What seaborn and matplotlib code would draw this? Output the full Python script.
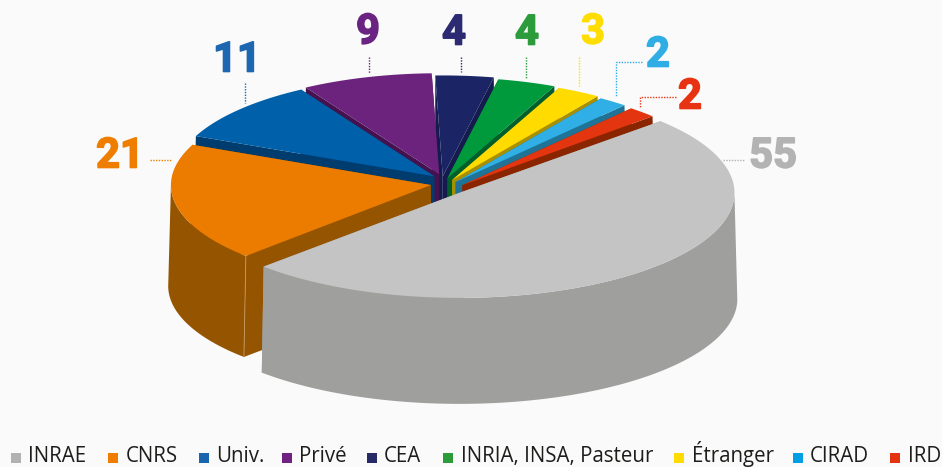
import numpy as np
import pandas as pd
import matplotlib
matplotlib.use("Agg")
import matplotlib.pyplot as plt
import matplotlib.patheffects as pe
import seaborn as sns

# donnees
labels = ['INRAE', 'CNRS', 'Univ.', 'Privé', 'CEA', 'INRIA, INSA, Pasteur', 'Étranger', 'CIRAD', 'IRD']
values = [55, 21, 11, 9, 4, 4, 3, 2, 2]

# couleurs
top_colors = ['#c4c4c4', '#ec7c00', '#0060a9', '#6c237e', '#1b2566', '#009a3d', '#ffdb00', '#2fafe6', '#e33510']
side_colors = ['#9f9f9d', '#955400', '#003d6e', '#46114f', '#151b4e', '#005f2a', '#a89000', '#1f7396', '#8b2500']
num_colors = ['#b3b3b3', '#ee7d00', '#1d67b1', '#6b2382', '#2b2a72', '#2b9b3c', '#ffdd00', '#2fade4', '#e73312']
leg_colors = ['#b2b2b2', '#f07d00', '#1a65b0', '#6f2282', '#262b66', '#2c9c3b', '#ffdb00', '#009fe3', '#e6330f']

# mise en page (pixels)
cx, cy = 445, 182
rx, ry = 260, 101
spread = 0.01  # le bas s'elargit un peu (perspective)
start = 43
depth = [106, 101, 101, 101, 101, 101, 101, 101, 101]
explode = [0.08, 0.055, 0.07, 0.08, 0.08, 0.08, 0.08, 0.08, 0.08]
shift_x = [0, 0, 3, 0, -4, -4, -3, -2, 3]
drop = [5, 2, -1, 0, 2.5, 4, 5, 6.5, 9]
scale_x = [1.058, 1.0, 1.0, 1.0, 1.0, 1.0, 1.0, 1.0, 1.0]
scale_y = [1.04, 1.0, 1.0, 1.0, 1.0, 1.0, 1.0, 1.0, 1.0]
draw_order = [4, 3, 2, 1, 5, 6, 7, 8, 0]

num_pos = [(773, 156), (120, 156), (237, 60), (368, 32), (454, 33), (527, 33), (593, 32), (658, 55), (690, 97)]
leader_x = [[723, 745], [150, 172], [245, 245], [369, 369], [461, 461], [526, 526], [579, 579], [642, 616, 616], [676, 640, 640]]
leader_y = [[160, 160], [160, 160], [83, 103], [57, 73], [57, 72], [57, 78], [57, 87], [62, 62, 97], [97, 97, 108]]
leg_square_x = [16, 113, 204, 287, 372, 448, 679, 798, 895]
leg_text_x = [28, 126, 216, 299, 384, 461, 692, 810, 908]
leg_y = 458
leg_base = 462

sns.set_theme(style="white")
plt.rcParams['font.family'] = ['Open Sans', 'DejaVu Sans']

fig = plt.figure(figsize=(9.42, 4.67), dpi=100, facecolor='#fafafa')
ax = fig.add_axes([0, 0, 1, 1])
ax.set_facecolor('#fafafa')


def lower(x):
    return x + spread * (np.asarray(x) - cx)


# angles des parts, sens horaire
sweep = np.array(values) / sum(values) * 360
a1 = start - np.concatenate([[0], np.cumsum(sweep)[:-1]])
a2 = a1 - sweep

for i in draw_order:
    mid = np.radians((a1[i] + a2[i]) / 2)
    x0 = cx + explode[i] * rx * np.cos(mid) + shift_x[i]
    y0 = cy - explode[i] * ry * np.sin(mid) + drop[i]
    t = np.radians(np.linspace(a1[i], a2[i], 160))
    ex = x0 + scale_x[i] * rx * np.cos(t)
    ey = y0 - scale_y[i] * ry * np.sin(t)
    # paroi exterieure, seulement la moitie avant
    front = np.sin(t) <= 0
    if front.sum() > 1:
        fx, fy = ex[front], ey[front]
        ax.fill(np.r_[fx, lower(fx[::-1])], np.r_[fy, fy[::-1] + depth[i]], color=side_colors[i], lw=0)
    # parois des coupes
    for e in (0, -1):
        ax.fill([x0, ex[e], lower(ex[e]), lower(x0)], [y0, ey[e], ey[e] + depth[i], y0 + depth[i]],
                color=side_colors[i], lw=0)
    # arete claire du CNRS
    if labels[i] == 'CNRS':
        ax.plot([ex[0], lower(ex[0])], [ey[0], ey[0] + depth[i]], color='#c89a60', lw=0.6)
    # dessus
    ax.fill(np.r_[x0, ex], np.r_[y0, ey], color=top_colors[i], lw=0)

# nombres et pointilles
for i in range(len(values)):
    ax.text(num_pos[i][0], num_pos[i][1], str(values[i]), color=num_colors[i], fontsize=30,
            fontweight='bold', fontstyle='normal', family='Roboto', ha='center', va='center',
            path_effects=[pe.withStroke(linewidth=1.2, foreground=num_colors[i])])
    ax.plot(leader_x[i], leader_y[i], color=num_colors[i], lw=1, ls=(0, (1, 1)), zorder=3)

# legende
leg = pd.DataFrame({'x': leg_square_x, 'y': [leg_y] * len(labels), 'lab': labels})
sns.scatterplot(data=leg, x='x', y='y', hue='lab', palette=leg_colors, marker='s', s=52,
                linewidth=0, legend=False, ax=ax, clip_on=False)
for i in range(len(labels)):
    ax.text(leg_text_x[i], leg_base, labels[i], fontsize=14.8, color='#1d1d1b', va='baseline', ha='left')
ax.set_xlim(0, 942)
ax.set_ylim(467, 0)
ax.axis('off')

fig.savefig("out.png", dpi=100, facecolor=fig.get_facecolor())
